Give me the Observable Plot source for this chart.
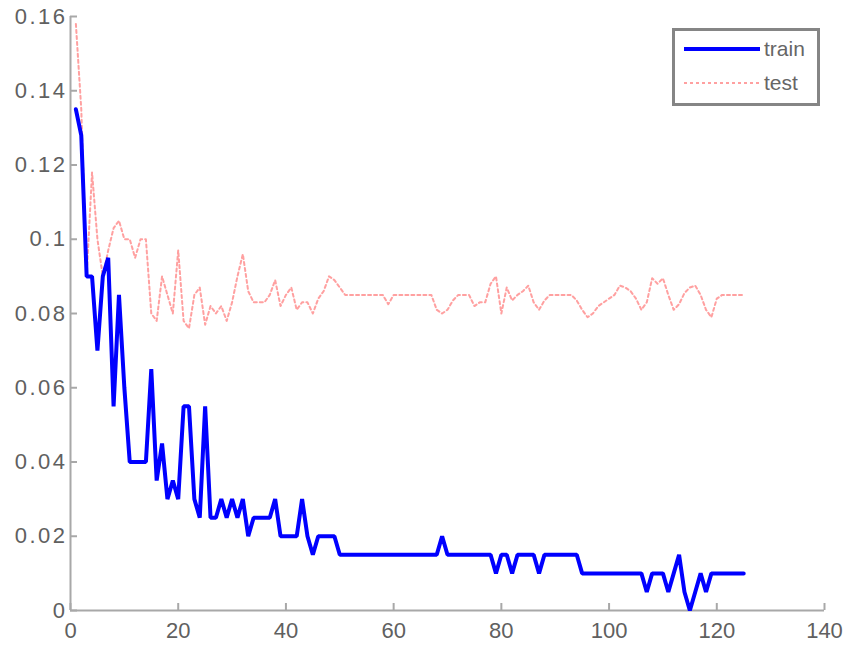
<!DOCTYPE html>
<html>
<head>
<meta charset="utf-8">
<script src="https://cdn.jsdelivr.net/npm/d3@7"></script>
<script src="https://cdn.jsdelivr.net/npm/@observablehq/plot@0.6"></script>
<style>
  html, body { margin: 0; padding: 0; background: #fff; }
  #wrap { position: relative; width: 848px; height: 645px; }
  #legend {
    position: absolute; left: 672px; top: 28px; width: 142px; height: 72px;
    border: 3px solid #858585; background: #fff;
    font-family: "Liberation Sans", Arial, sans-serif; font-size: 21px; color: #666;
  }
  #legend .row { position: absolute; left: 0; height: 20px; display: flex; align-items: center; }
  #legend svg { margin-left: 9px; }
  #legend span { margin-left: 4px; }
  g[aria-label="y-axis tick label"] text { letter-spacing: 2.5px; }
</style>
</head>
<body>
<div id="wrap">
  <div id="chart"></div>
  <div id="legend"></div>
</div>
<script>
// Error rate per training epoch
const train = [
  0.135, 0.128, 0.09, 0.09, 0.07, 0.09, 0.095, 0.055, 0.085, 0.06,
  0.04, 0.04, 0.04, 0.04, 0.065, 0.035, 0.045, 0.03, 0.035, 0.03,
  0.055, 0.055, 0.03, 0.025, 0.055, 0.025, 0.025, 0.03, 0.025, 0.03,
  0.025, 0.03, 0.02, 0.025, 0.025, 0.025, 0.025, 0.03, 0.02, 0.02,
  0.02, 0.02, 0.03, 0.02, 0.015, 0.02, 0.02, 0.02, 0.02, 0.015,
  0.015, 0.015, 0.015, 0.015, 0.015, 0.015, 0.015, 0.015, 0.015, 0.015,
  0.015, 0.015, 0.015, 0.015, 0.015, 0.015, 0.015, 0.015, 0.02, 0.015,
  0.015, 0.015, 0.015, 0.015, 0.015, 0.015, 0.015, 0.015, 0.01, 0.015,
  0.015, 0.01, 0.015, 0.015, 0.015, 0.015, 0.01, 0.015, 0.015, 0.015,
  0.015, 0.015, 0.015, 0.015, 0.01, 0.01, 0.01, 0.01, 0.01, 0.01,
  0.01, 0.01, 0.01, 0.01, 0.01, 0.01, 0.005, 0.01, 0.01, 0.01,
  0.005, 0.01, 0.015, 0.005, 0, 0.005, 0.01, 0.005, 0.01, 0.01,
  0.01, 0.01, 0.01, 0.01, 0.01
];
const test = [
  0.158, 0.135, 0.09, 0.118, 0.1, 0.09, 0.097, 0.103, 0.105, 0.1,
  0.1, 0.095, 0.1, 0.1, 0.08, 0.078, 0.09, 0.085, 0.08, 0.097,
  0.078, 0.076, 0.085, 0.087, 0.077, 0.082, 0.08, 0.082, 0.078, 0.083,
  0.09, 0.096, 0.086, 0.083, 0.083, 0.083, 0.085, 0.089, 0.082, 0.085,
  0.087, 0.081, 0.083, 0.083, 0.08, 0.084, 0.086, 0.09, 0.089, 0.087,
  0.085, 0.085, 0.085, 0.085, 0.085, 0.085, 0.085, 0.085, 0.0825, 0.085,
  0.085, 0.085, 0.085, 0.085, 0.085, 0.085, 0.085, 0.081, 0.08, 0.081,
  0.0835, 0.085, 0.085, 0.085, 0.082, 0.083, 0.083, 0.088, 0.09, 0.08,
  0.087, 0.0835, 0.085, 0.086, 0.0875, 0.083, 0.081, 0.0835, 0.085, 0.085,
  0.085, 0.085, 0.085, 0.0835, 0.081, 0.079, 0.08, 0.082, 0.083, 0.084,
  0.085, 0.0875, 0.087, 0.086, 0.084, 0.081, 0.083, 0.0895, 0.088, 0.0895,
  0.085, 0.081, 0.0825, 0.0855, 0.087, 0.0875, 0.085, 0.081, 0.079, 0.084,
  0.085, 0.085, 0.085, 0.085, 0.085
];
const xTicks = [0, 20, 40, 60, 80, 100, 120, 140];
const yTicks = [0, 0.02, 0.04, 0.06, 0.08, 0.1, 0.12, 0.14, 0.16];
const seriesNames = ["train", "test"];

const epochs = train.map((_, i) => i + 1);
const trainRows = epochs.map((e, i) => ({epoch: e, err: train[i]}));
const testRows = epochs.map((e, i) => ({epoch: e, err: test[i]}));

const W = 848, H = 645, mL = 70, mR = 24, mT = 16, mB = 35;
const frameW = W - mL - mR, frameH = H - mT - mB;
const axisGrey = "#a8a8a8";
const labelGrey = "#606060";
const tickLen = 7;
const trainColor = "#0000ff", testColor = "#ff8080";

const chart = Plot.plot({
  width: W, height: H,
  marginLeft: mL, marginRight: mR, marginTop: mT, marginBottom: mB,
  style: {fontFamily: "Liberation Sans, Arial, sans-serif", fontSize: "22px", color: labelGrey, background: "#fff"},
  x: {domain: [0, 140], label: null},
  y: {domain: [0, 0.16], label: null},
  marks: [
    // axis lines (left and bottom only)
    Plot.ruleX([0], {stroke: axisGrey, strokeWidth: 2}),
    Plot.ruleY([0], {stroke: axisGrey, strokeWidth: 2}),
    // inward tick marks
    Plot.tickY(yTicks, {y: d => d, stroke: axisGrey, strokeWidth: 2, insetRight: frameW - tickLen}),
    Plot.tickX(xTicks, {x: d => d, stroke: axisGrey, strokeWidth: 2, insetTop: frameH - tickLen}),
    // tick labels
    Plot.axisY(yTicks, {tickSize: 0, tickPadding: 3, tickFormat: d => String(+d.toFixed(2)), fill: labelGrey}),
    Plot.axisX(xTicks, {tickSize: 0, tickPadding: 12, fill: labelGrey}),
    // series
    Plot.line(testRows, {x: "epoch", y: "err", stroke: testColor, strokeWidth: 2, strokeDasharray: "3,3", strokeOpacity: 0.75}),
    Plot.line(trainRows, {x: "epoch", y: "err", stroke: trainColor, strokeWidth: 4, strokeLinejoin: "miter"})
  ]
});
document.getElementById("chart").appendChild(chart);

// Legend box in the top-right corner of the axes
const legendStyles = {
  train: {stroke: trainColor, width: 4, dash: null, opacity: 1},
  test: {stroke: testColor, width: 2, dash: "3,3", opacity: 0.75}
};
const legend = document.getElementById("legend");
seriesNames.forEach((name, i) => {
  const s = legendStyles[name];
  const row = document.createElement("div");
  row.className = "row";
  row.style.top = (i === 0 ? 8 : 42) + "px";
  row.innerHTML =
    `<svg width="76" height="20"><line x1="0" x2="76" y1="10" y2="10" stroke="${s.stroke}" stroke-width="${s.width}" stroke-opacity="${s.opacity}"` +
    (s.dash ? ` stroke-dasharray="${s.dash}"` : "") + `/></svg><span>${name}</span>`;
  legend.appendChild(row);
});
</script>
</body>
</html>
